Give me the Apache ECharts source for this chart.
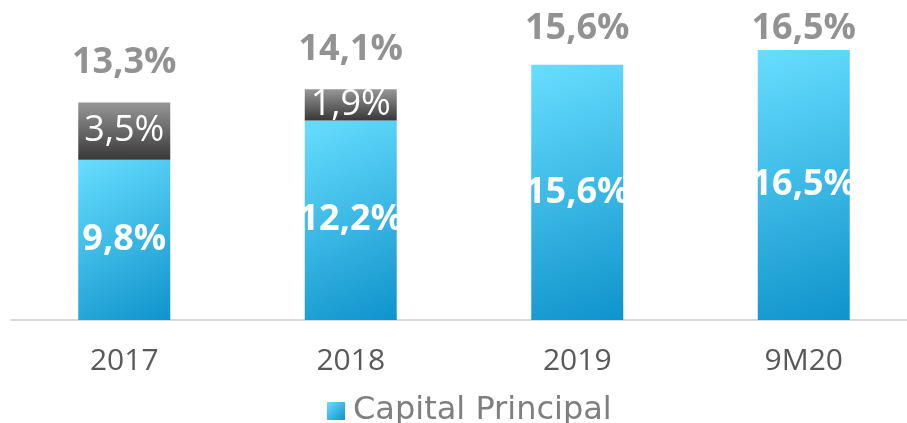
<!DOCTYPE html>
<html>
<head>
<meta charset="utf-8">
<script src="https://cdn.jsdelivr.net/npm/echarts@6/dist/echarts.min.js"></script>
<style>
html,body{margin:0;padding:0;background:#fff;overflow:hidden;width:907px;height:423px;}
#c{width:917px;height:423px;}
</style>
</head>
<body>
<div id="c"></div>
<script>
const categories = ['2017', '2018', '2019', '9M20'];
const capitalPrincipal = [9.8, 12.2, 15.6, 16.5];
const otherCapital = [3.5, 1.9, null, null];
const totals = [13.3, 14.1, 15.6, 16.5];

const fmt = v => v.toFixed(1).replace('.', ',') + '%';
const FONT = '"Open Sans", "DejaVu Sans", sans-serif';

const chart = echarts.init(document.getElementById('c'), null, {renderer: 'canvas'});

const option = {
  animation: false,
  backgroundColor: '#ffffff',
  grid: {left: 11, right: 0, top: 25.5, bottom: 103, containLabel: false},
  legend: {
    data: ['Capital Principal'],
    top: 390,
    left: 322,
    icon: 'rect',
    itemWidth: 18,
    itemHeight: 18,
    itemGap: 10,
    textStyle: {fontFamily: '"DejaVu Sans", sans-serif', fontSize: 32, color: '#7f7f7f', padding: [0, 0, 0, 3]}
  },
  xAxis: {
    type: 'category',
    data: categories,
    axisLine: {show: true, lineStyle: {color: '#d9d9d9', width: 2}},
    axisTick: {show: false},
    axisLabel: {fontFamily: FONT, fontSize: 30, color: '#595959', margin: 26}
  },
  yAxis: {
    type: 'value',
    min: 0,
    max: 18,
    show: false,
    splitLine: {show: false}
  },
  series: [
    {
      name: 'Capital Principal',
      type: 'bar',
      stack: 'total',
      barWidth: 92,
      data: capitalPrincipal,
      itemStyle: {
        color: {
          type: 'linear', x: 0, y: 0, x2: 1, y2: 1,
          colorStops: [{offset: 0, color: '#68DEFF'}, {offset: 1, color: '#0F93CB'}]
        }
      },
      label: {
        show: true,
        position: 'inside',
        formatter: p => fmt(p.value),
        fontFamily: FONT,
        fontWeight: 'bold',
        fontSize: 36,
        color: '#ffffff'
      }
    },
    {
      name: 'Otros',
      type: 'bar',
      stack: 'total',
      barWidth: 92,
      data: otherCapital,
      itemStyle: {
        color: {
          type: 'linear', x: 0, y: 0, x2: 0, y2: 1,
          colorStops: [{offset: 0, color: '#979797'}, {offset: 1, color: '#383838'}]
        }
      },
      label: {
        show: true,
        position: 'inside',
        formatter: p => p.value == null ? '' : fmt(p.value),
        fontFamily: FONT,
        fontSize: 36,
        color: '#ffffff'
      }
    },
    {
      name: 'Total',
      type: 'scatter',
      symbolSize: 0,
      silent: true,
      data: totals,
      label: {
        show: true,
        position: 'inside',
        formatter: p => fmt(p.value),
        fontFamily: FONT,
        fontWeight: 'bold',
        fontSize: 36,
        color: '#777777'
      }
    }
  ]
};

chart.setOption(option);

// Place total labels above the bars, clamped near the top of the chart
const totalData = totals.map((t, i) => {
  const py = chart.convertToPixel({gridIndex: 0}, [i, t])[1];
  const want = Math.max(py - 40, 29);
  return {value: t, label: {offset: [0, want - py]}};
});
chart.setOption({series: [{}, {}, {data: totalData}]});
</script>
</body>
</html>
